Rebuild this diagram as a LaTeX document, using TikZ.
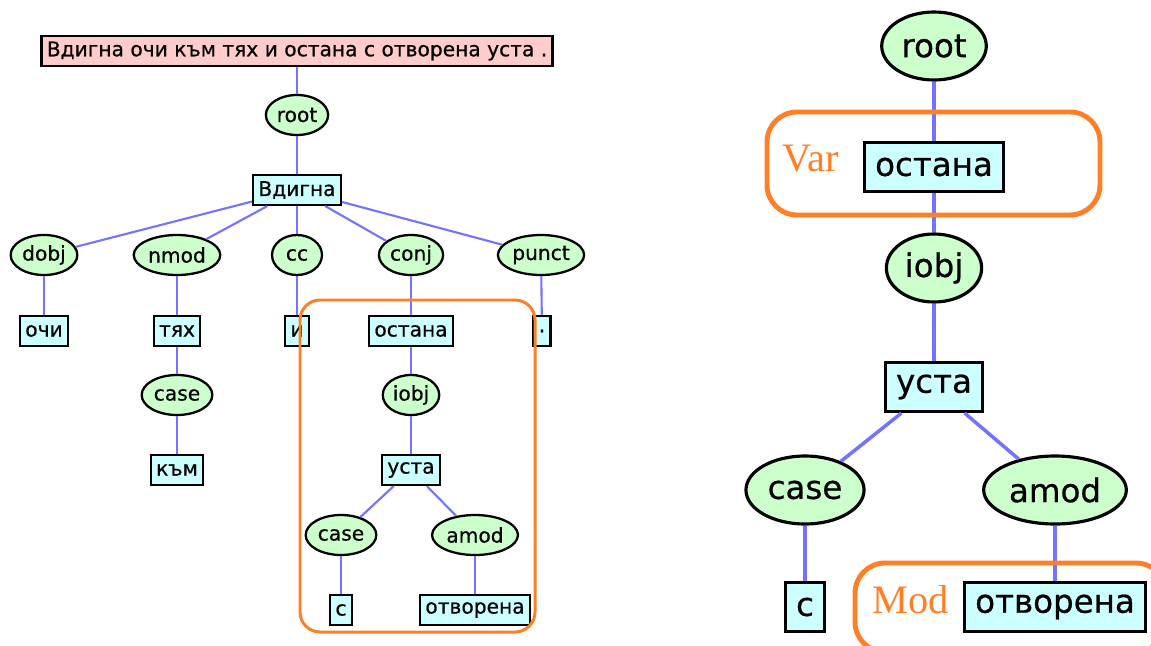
\documentclass[tikz,border=0pt]{standalone}
\usepackage{fontspec}
\setmainfont[FakeBold=0.6]{DejaVu Sans}
\newfontfamily\tagfont{Liberation Serif}
\usetikzlibrary{shapes.geometric}

\definecolor{wordfill}{HTML}{CCFFFF}
\definecolor{relfill}{HTML}{CCFFCC}
\definecolor{sentfill}{HTML}{FFCCCC}
\definecolor{edgeblue}{HTML}{7373FF}
\definecolor{markorange}{HTML}{FF7F27}

\begin{document}
\begin{tikzpicture}[
    x=0.02cm, y=-0.02cm,
    word/.style={
        draw,
        fill=wordfill,
        line width=1.3pt,
        inner xsep=3pt,
        inner ysep=0pt,
        minimum height=0.6cm,
        font=\fontsize{11.5}{14}\selectfont
    },
    sent/.style={word, fill=sentfill},
    rel/.style={
        ellipse,
        draw,
        fill=relfill,
        line width=1.3pt,
        inner xsep=1pt,
        inner ysep=0pt,
        minimum height=0.8cm,
        minimum width=1cm,
        font=\fontsize{11.5}{14}\selectfont
    },
    bigword/.style={
        word,
        line width=1.8pt,
        inner xsep=6pt,
        minimum height=0.98cm,
        font=\fontsize{18.5}{22}\selectfont
    },
    bigrel/.style={
        rel,
        line width=1.8pt,
        inner xsep=2.5pt,
        minimum height=1.36cm,
        font=\fontsize{18.5}{22}\selectfont
    },
    dep/.style={draw=edgeblue, line width=1.2pt},
    bigdep/.style={draw=edgeblue, line width=2pt},
    group/.style={draw=markorange, line width=1.7pt, rounded corners=0.4cm},
    biggroup/.style={draw=markorange, line width=2.8pt, rounded corners=0.6cm},
    tag/.style={text=markorange, font=\tagfont\fontsize{23}{26}\selectfont}
]

\useasboundingbox (0,0) rectangle (1151,645);

% left: full sentence
\node[sent] (sent) at (297,51) {Вдигна очи към тях и остана с отворена уста .};
\node[rel] (root) at (297,115) {root};
\node[word] (vdigna) at (297,190) {Вдигна};

\node[rel] (dobj) at (44,255) {dobj};
\node[rel] (nmod) at (177,255) {nmod};
\node[rel] (cc) at (297,255) {cc};
\node[rel] (conj) at (411,255) {conj};
\node[rel] (punct) at (541,255) {punct};

\node[word] (ochi) at (44,331) {очи};
\node[word] (tyah) at (177,331) {тях};
\node[word] (i) at (297,331) {и};
\node[word] (ostana) at (411,331) {остана};
\node[word] (dot) at (542,331) {.};

\node[rel] (case) at (177,395) {case};
\node[rel] (iobj) at (411,395) {iobj};
\node[word] (kam) at (177,470) {към};
\node[word] (usta) at (411,470) {уста};

\node[rel] (casetwo) at (341,535) {case};
\node[rel] (amod) at (475,535) {amod};
\node[word] (s) at (341,610) {с};
\node[word] (otvorena) at (475,610) {отворена};

\draw[dep] (sent) -- (root);
\draw[dep] (root) -- (vdigna);
\draw[dep] (vdigna) -- (dobj);
\draw[dep] (vdigna) -- (nmod);
\draw[dep] (vdigna) -- (cc);
\draw[dep] (vdigna) -- (conj);
\draw[dep] (vdigna) -- (punct);
\draw[dep] (dobj) -- (ochi);
\draw[dep] (nmod) -- (tyah);
\draw[dep] (cc) -- (i);
\draw[dep] (conj) -- (ostana);
\draw[dep] (punct) -- (dot);
\draw[dep] (tyah) -- (case);
\draw[dep] (case) -- (kam);
\draw[dep] (ostana) -- (iobj);
\draw[dep] (iobj) -- (usta);
\draw[dep] (usta) -- (casetwo);
\draw[dep] (usta) -- (amod);
\draw[dep] (casetwo) -- (s);
\draw[dep] (amod) -- (otvorena);

\draw[group] (300,300) rectangle (535,632);

% right: the conj subtree, enlarged
\node[bigrel] (rroot) at (934,46) {root};
\node[bigword] (rostana) at (934,167) {остана};
\node[bigrel] (riobj) at (934,268) {iobj};
\node[bigword] (rusta) at (934,387) {уста};
\node[bigrel] (rcase) at (805,490) {case};
\node[bigrel] (ramod) at (1055,490) {amod};
\node[bigword] (rs) at (805,607) {с};
\node[bigword] (rotvorena) at (1055,607) {отворена};

\draw[bigdep] (rroot) -- (rostana);
\draw[bigdep] (rostana) -- (riobj);
\draw[bigdep] (riobj) -- (rusta);
\draw[bigdep] (rusta) -- (rcase);
\draw[bigdep] (rusta) -- (ramod);
\draw[bigdep] (rcase) -- (rs);
\draw[bigdep] (ramod) -- (rotvorena);

\draw[biggroup] (767,112) rectangle (1100,215);
\node[tag] (var) at (811,159) {Var};
\draw[biggroup] (855,563) rectangle (1166,652);
\node[tag] (mod) at (911,600) {Mod};

\end{tikzpicture}
\end{document}
